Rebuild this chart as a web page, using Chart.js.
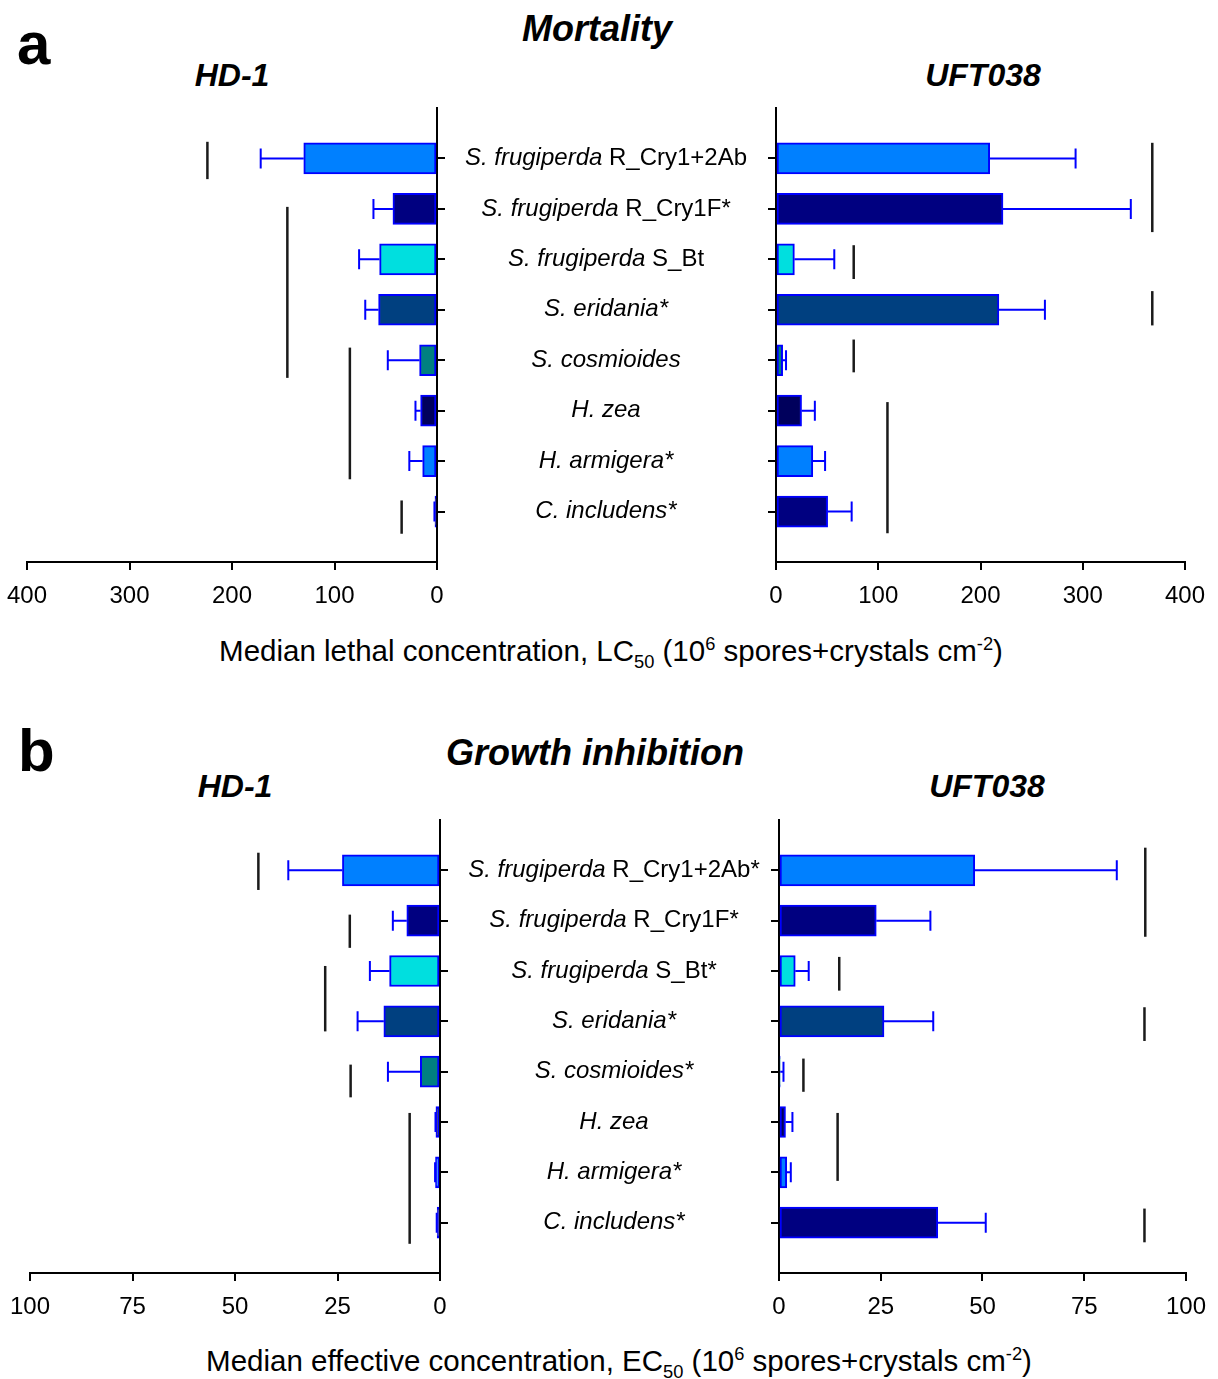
<!DOCTYPE html>
<html>
<head>
<meta charset="utf-8">
<script src="https://cdn.jsdelivr.net/npm/chart.js@4.4.1/dist/chart.umd.min.js"></script>
<style>
body { margin: 0; background: #fff; }
#page { position: relative; width: 1218px; height: 1379px; font-family: "Liberation Sans", Arial, sans-serif; color: #000; overflow: hidden; }
canvas { position: absolute; }
.t { position: absolute; white-space: nowrap; line-height: 1; }
sub, sup { font-size: 0.62em; line-height: 0; }
</style>
</head>
<body>
<div id="page">
  <canvas id="aLeft" width="445" height="517" style="left:0px;top:95px"></canvas>
  <canvas id="aRight" width="773" height="517" style="left:445px;top:95px"></canvas>
  <canvas id="bLeft" width="448" height="516" style="left:0px;top:807px"></canvas>
  <canvas id="bRight" width="770" height="516" style="left:448px;top:807px"></canvas>
</div>
<script>
// categories (italic species part + plain strain part)
var speciesA = ['S. frugiperda', 'S. frugiperda', 'S. frugiperda', 'S. eridania*', 'S. cosmioides', 'H. zea', 'H. armigera*', 'C. includens*'];
var strainA = [' R_Cry1+2Ab', ' R_Cry1F*', ' S_Bt', '', '', '', '', ''];
var speciesB = ['S. frugiperda', 'S. frugiperda', 'S. frugiperda', 'S. eridania*', 'S. cosmioides*', 'H. zea', 'H. armigera*', 'C. includens*'];
var strainB = [' R_Cry1+2Ab*', ' R_Cry1F*', ' S_Bt*', '', '', '', '', ''];
var barColors = ['#0080ff', '#000080', '#00dfdf', '#004080', '#008080', '#00005c', '#0080ff', '#000080'];

// a: mortality, LC50 and upper confidence limit
var lcHD1 = [130, 43, 56, 57, 17, 16, 14, 2];
var lcHD1Upper = [172, 62, 76, 70, 48, 21, 27, 2.5];
var lcUFT = [209, 222, 18, 218, 6.5, 25, 36, 50.5];
var lcUFTUpper = [293, 347, 57, 263, 9.8, 38, 48, 74];
// significance lines: [value, from category, to category]
var lcHD1Groups = [[224, -0.33, 0.41], [146, 0.96, 4.35], [85, 3.75, 6.36], [34.5, 6.78, 7.44]];
var lcUFTGroups = [[368, -0.31, 1.46], [76, 1.72, 2.39], [368, 2.63, 3.31], [76, 3.59, 4.24], [109, 4.83, 7.43]];
var lcTicks = [0, 100, 200, 300, 400];

// b: growth inhibition, EC50 and upper confidence limit
var ecHD1 = [23.8, 8.1, 12.3, 13.7, 4.8, 1.0, 1.1, 0.7];
var ecHD1Upper = [37, 11.5, 17.1, 20.1, 12.7, 1.1, 1.2, 0.8];
var ecUFT = [48.1, 23.9, 4, 25.8, 0.3, 1.6, 1.9, 39];
var ecUFTUpper = [83, 37.2, 7.3, 37.9, 1.1, 3.3, 2.9, 50.8];
var ecHD1Groups = [[44.3, -0.35, 0.39], [22, 0.88, 1.54], [28, 1.9, 3.2], [21.8, 3.86, 4.51], [7.4, 4.82, 7.42]];
var ecUFTGroups = [[90, -0.45, 1.32], [14.8, 1.72, 2.39], [89.8, 2.72, 3.39], [6, 3.74, 4.4], [14.4, 4.82, 6.17], [89.8, 6.72, 7.39]];
var ecTicks = [0, 25, 50, 75, 100];

Chart.defaults.color = '#000';
Chart.defaults.font.family = '"Liberation Sans", Arial, sans-serif';

var page = document.getElementById('page');

function addText(html, x, baseline, size, weight, style, center) {
    var d = document.createElement('div');
    d.className = 't';
    d.innerHTML = html;
    d.style.fontSize = size + 'px';
    d.style.fontWeight = weight;
    d.style.fontStyle = style;
    d.style.top = (baseline - 0.8465 * size) + 'px';
    d.style.left = x + 'px';
    if (center) d.style.transform = 'translateX(-50%)';
    page.appendChild(d);
}

// error bars and group lines, drawn through the chart scales
function extrasPlugin(vals, upper, groups) {
    return {
        id: 'extras',
        afterDatasetsDraw: function(chart) {
            var ctx = chart.ctx, xs = chart.scales.x, ys = chart.scales.y;
            ctx.save();
            ctx.strokeStyle = '#0000ff';
            ctx.lineWidth = 2;
            for (var i = 0; i < vals.length; i++) {
                var x1 = xs.getPixelForValue(vals[i]);
                var x2 = xs.getPixelForValue(upper[i]);
                var y = ys.getPixelForValue(i);
                ctx.beginPath();
                ctx.moveTo(x1, y); ctx.lineTo(x2, y);
                ctx.moveTo(x2, y - 10); ctx.lineTo(x2, y + 10);
                ctx.stroke();
            }
            ctx.strokeStyle = '#1a1a1a';
            ctx.lineWidth = 2.5;
            groups.forEach(function(g) {
                var gx = xs.getPixelForValue(g[0]);
                ctx.beginPath();
                ctx.moveTo(gx, ys.getPixelForValue(g[1]));
                ctx.lineTo(gx, ys.getPixelForValue(g[2]));
                ctx.stroke();
            });
            ctx.restore();
        }
    };
}

function labelPlugin(species, strain, center) {
    return {
        id: 'catLabels',
        afterDraw: function(chart) {
            var ctx = chart.ctx, ys = chart.scales.y;
            ctx.save();
            ctx.fillStyle = '#000';
            ctx.textBaseline = 'middle';
            ctx.textAlign = 'left';
            for (var i = 0; i < species.length; i++) {
                var it = 'italic 24px "Liberation Sans", Arial, sans-serif';
                var rg = '24px "Liberation Sans", Arial, sans-serif';
                ctx.font = it;
                var w1 = ctx.measureText(species[i]).width;
                ctx.font = rg;
                var w2 = ctx.measureText(strain[i]).width;
                var x = center - (w1 + w2) / 2;
                var y = ys.getPixelForValue(i);
                ctx.font = it;
                ctx.fillText(species[i], x, y);
                ctx.font = rg;
                ctx.fillText(strain[i], x + w1, y);
            }
            ctx.restore();
        }
    };
}

function makeChart(id, vals, upper, groups, ticks, side, padSide, labelInfo) {
    var plugins = [extrasPlugin(vals, upper, groups)];
    if (labelInfo) plugins.push(labelPlugin(labelInfo[0], labelInfo[1], labelInfo[2]));
    var isLeft = side === 'left';
    var gapWidth = labelInfo ? labelInfo[3] : 8;
    return new Chart(document.getElementById(id), {
        type: 'bar',
        data: {
            datasets: [{
                data: vals.map(function(v, i) { return { x: v, y: i }; }),
                backgroundColor: barColors,
                borderColor: '#0000ff',
                borderWidth: 2,
                borderSkipped: false,
                barThickness: 31
            }]
        },
        options: {
            indexAxis: 'y',
            responsive: false,
            animation: false,
            layout: { padding: { left: isLeft ? padSide : 0, right: isLeft ? 0 : padSide, top: 13, bottom: 0 } },
            plugins: { legend: { display: false }, tooltip: { enabled: false }, title: { display: false } },
            scales: {
                x: {
                    type: 'linear',
                    position: 'bottom',
                    min: ticks[0],
                    max: ticks[ticks.length - 1],
                    reverse: isLeft,
                    afterBuildTicks: function(s) { s.ticks = ticks.map(function(v) { return { value: v }; }); },
                    afterFit: function(s) { s.height = 50; },
                    grid: { drawOnChartArea: false, tickLength: 8, color: '#000', lineWidth: 2 },
                    border: { display: true, color: '#000', width: 2 },
                    ticks: { font: { size: 24 }, padding: 12, color: '#000' }
                },
                y: {
                    type: 'linear',
                    position: isLeft ? 'right' : 'left',
                    reverse: true,
                    offset: false,
                    min: -1,
                    max: 8,
                    afterBuildTicks: function(s) { s.ticks = vals.map(function(v, i) { return { value: i }; }); },
                    afterFit: function(s) { s.width = gapWidth; },
                    grid: { offset: false, drawOnChartArea: false, tickLength: 8, color: '#000', lineWidth: 2 },
                    border: { display: true, color: '#000', width: 2 },
                    ticks: { display: false }
                }
            }
        },
        plugins: plugins
    });
}

makeChart('aLeft', lcHD1, lcHD1Upper, lcHD1Groups, lcTicks, 'left', 27, null);
makeChart('aRight', lcUFT, lcUFTUpper, lcUFTGroups, lcTicks, 'right', 33, [speciesA, strainA, 161, 331]);
makeChart('bLeft', ecHD1, ecHD1Upper, ecHD1Groups, ecTicks, 'left', 30, null);
makeChart('bRight', ecUFT, ecUFTUpper, ecUFTGroups, ecTicks, 'right', 30, [speciesB, strainB, 166, 331]);

// titles
addText('a', 17, 65, 60, 'bold', 'normal', false);
addText('Mortality', 597, 41, 36, 'bold', 'italic', true);
addText('HD-1', 232, 86, 32, 'bold', 'italic', true);
addText('UFT038', 983, 86, 32, 'bold', 'italic', true);
addText('Median lethal concentration, LC<sub>50</sub> (10<sup>6</sup> spores+crystals cm<sup>-2</sup>)', 611, 661, 29.5, 'normal', 'normal', true);

addText('b', 18, 772, 60, 'bold', 'normal', false);
addText('Growth inhibition', 595, 765, 36, 'bold', 'italic', true);
addText('HD-1', 235, 797, 32, 'bold', 'italic', true);
addText('UFT038', 987, 797, 32, 'bold', 'italic', true);
addText('Median effective concentration, EC<sub>50</sub> (10<sup>6</sup> spores+crystals cm<sup>-2</sup>)', 619, 1371, 29.5, 'normal', 'normal', true);
</script>
</body>
</html>
